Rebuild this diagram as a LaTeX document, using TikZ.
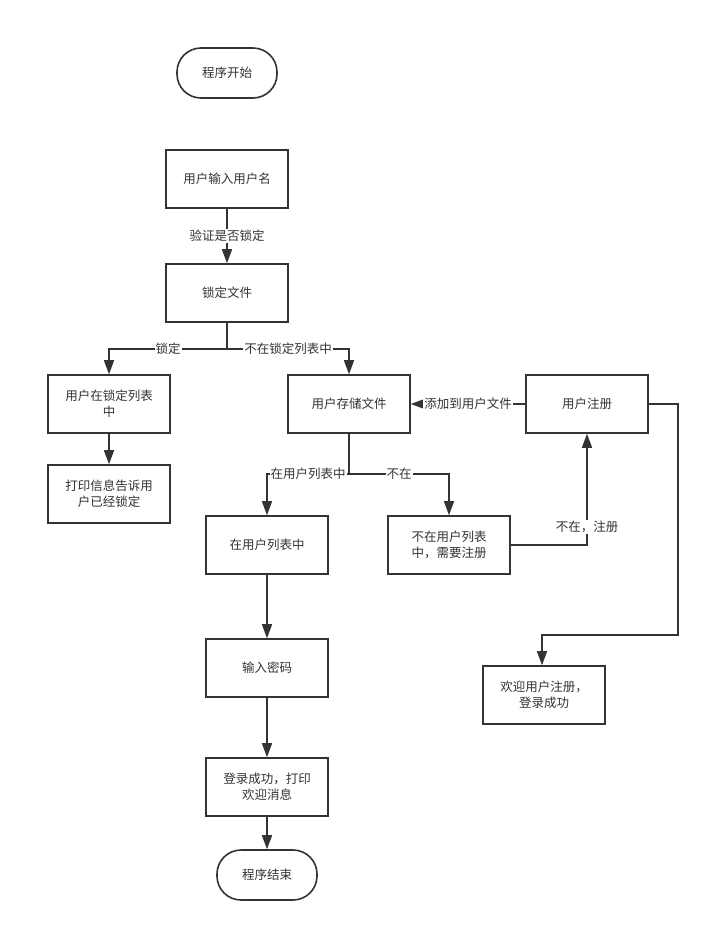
\documentclass[tikz,border=0pt]{standalone}
\usepackage{fontspec}
\setmainfont{Noto Sans CJK SC}
\usetikzlibrary{arrows.meta}
\definecolor{ln}{HTML}{333333}
\tikzset{
  box/.style={draw=ln, line width=1.6pt, minimum width=122pt, minimum height=58pt, align=center, inner sep=2pt, font=\fontsize{12.5}{16}\selectfont, text=ln},
  term/.style={box, rounded corners=24pt, minimum width=100pt, minimum height=50pt},
  conn/.style={draw=ln, line width=1.6pt, -{Triangle[length=14pt,width=10pt]}},
  plain/.style={draw=ln, line width=1.6pt},
  lbl/.style={fill=white, inner sep=1pt, font=\fontsize{12.5}{15}\selectfont, text=ln}
}
\begin{document}
\begin{tikzpicture}[x=1pt,y=-1pt]
\useasboundingbox[fill=white] (0,0) rectangle (710,932);
\node[term] (start) at (227,73) {程序开始};
\node[box] (input) at (227,179) {用户输入用户名};
\node[box] (lockfile) at (227,293) {锁定文件};
\node[box] (inlock) at (109,404) {用户在锁定列表\\中};
\node[box] (print) at (109,494) {打印信息告诉用\\户已经锁定};
\node[box] (store) at (349,404) {用户存储文件};
\node[box] (reg) at (587,404) {用户注册};
\node[box] (inlist) at (267,545) {在用户列表中};
\node[box] (notin) at (449,545) {不在用户列表\\中，需要注册};
\node[box] (pwd) at (267,668) {输入密码};
\node[box] (ok) at (267,787) {登录成功，打印\\欢迎消息};
\node[term] (end) at (267,875) {程序结束};
\node[box] (welcome) at (544,695) {欢迎用户注册，\\登录成功};

\coordinate (j1) at (227,349);
\coordinate (j2) at (349,474);
\coordinate (j3) at (678,635);
\coordinate (j4) at (542,635);

\draw[conn] (input) -- node[lbl, pos=0.5]{验证是否锁定} (lockfile);
\draw[plain] (lockfile) -- (j1);
\draw[conn] (j1) -- node[lbl, pos=0.5]{锁定} (109,349) -- (inlock);
\draw[conn] (j1) -- node[lbl, pos=0.5]{不在锁定列表中} (349,349) -- (store);
\draw[conn] (inlock) -- (print);
\draw[plain] (store) -- (j2);
\draw[conn] (j2) -- node[lbl, pos=0.5]{在用户列表中} (267,474) -- (inlist);
\draw[conn] (j2) -- node[lbl, pos=0.5]{不在} (449,474) -- (notin);
\draw[conn] (notin) -| node[lbl, pos=0.58]{不在，注册} (reg);
\draw[conn] (reg) -- node[lbl, pos=0.5]{添加到用户文件} (store);
\draw[conn] (reg.east) -| (j3) -- (j4) -- (j4 |- welcome.north);
\draw[conn] (inlist) -- (pwd);
\draw[conn] (pwd) -- (ok);
\draw[conn] (ok) -- (end);
\end{tikzpicture}
\end{document}
